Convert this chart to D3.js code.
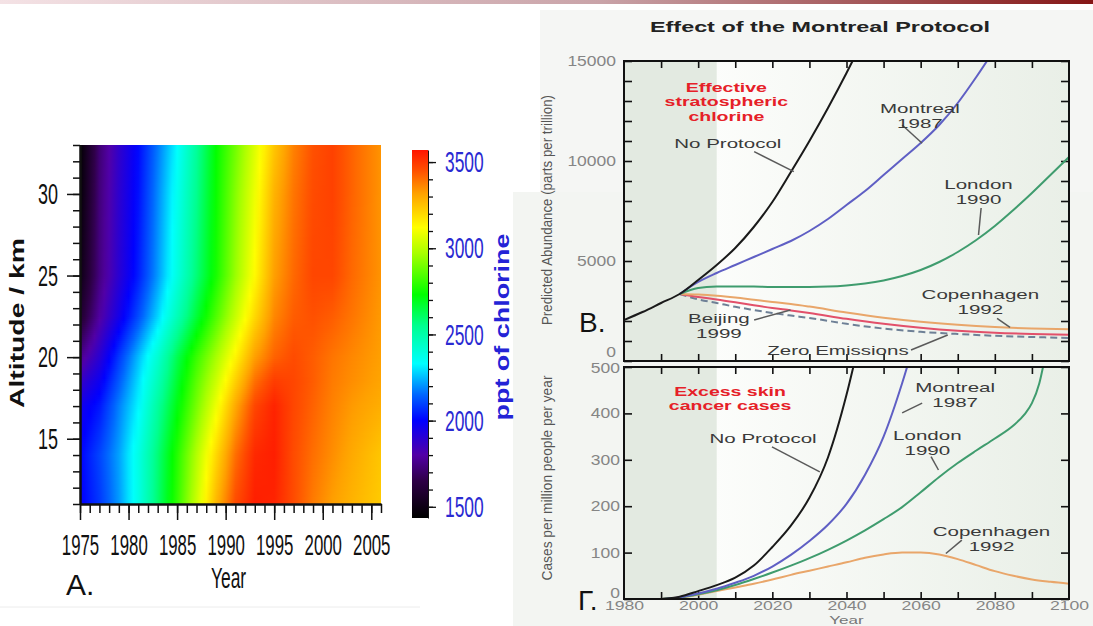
<!DOCTYPE html>
<html lang="en">
<head>
<meta charset="utf-8">
<title>Chlorine and the Montreal Protocol</title>
<script src="https://cdn.jsdelivr.net/npm/d3@7"></script>
<style>
  body { margin: 0; background: #fff; }
  svg { display: block; font-family: "Liberation Sans", Arial, sans-serif; }
</style>
</head>
<body>
<div id="chart"></div>
<script>
// ---------- panel A data: chlorine (ppt) by altitude and year ----------
var heatYears = [1975, 1977, 1979, 1981, 1983, 1985, 1987, 1989, 1991, 1993, 1995, 1997, 1999, 2001, 2003, 2006];
var heatAlts = [11, 14, 17, 18.5, 20, 22.5, 25, 30, 33];
var heatVals = [
  [1990, 2080, 2210, 2380, 2590, 2800, 3030, 3270, 3460, 3550, 3540, 3460, 3380, 3320, 3280, 3230],
  [2000, 2100, 2220, 2380, 2580, 2780, 2990, 3200, 3400, 3530, 3550, 3460, 3400, 3350, 3300, 3240],
  [1950, 2030, 2180, 2320, 2520, 2710, 2900, 3090, 3300, 3470, 3540, 3470, 3420, 3370, 3330, 3290],
  [1870, 1970, 2130, 2290, 2470, 2670, 2860, 3030, 3220, 3400, 3490, 3470, 3430, 3380, 3350, 3310],
  [1760, 1900, 2080, 2250, 2420, 2630, 2810, 2970, 3140, 3320, 3420, 3460, 3430, 3390, 3360, 3320],
  [1580, 1790, 1950, 2110, 2280, 2470, 2660, 2840, 3020, 3200, 3360, 3430, 3450, 3430, 3390, 3330],
  [1500, 1740, 1900, 2040, 2210, 2390, 2580, 2760, 2950, 3130, 3320, 3410, 3470, 3470, 3410, 3340],
  [1460, 1730, 1890, 2020, 2190, 2360, 2550, 2740, 2920, 3090, 3280, 3390, 3460, 3480, 3420, 3340],
  [1450, 1720, 1880, 2010, 2170, 2330, 2530, 2730, 2890, 3060, 3240, 3370, 3450, 3480, 3420, 3340]
];
var cbarVals = [1440, 1650, 1800, 2000, 2150, 2330, 2550, 2730, 2970, 3120, 3320, 3450, 3570];
var cbarCols = ["#000000", "#2e0046", "#5200a6", "#0000ff", "#0066ff", "#00ffff", "#00ff90", "#00ff00",
                "#a8ff00", "#ffff00", "#ffa000", "#ff5000", "#ff1400"];
var yearTicksA = [1975, 1980, 1985, 1990, 1995, 2000, 2005];
var altTicks = [15, 20, 25, 30];
var cbarTicks = [1500, 2000, 2500, 3000, 3500];

// ---------- panel B data: effective stratospheric chlorine (ppt) ----------
var bYearsNo = [1980, 1985, 1990, 1995, 2000, 2005, 2010, 2015, 2020, 2025, 2030, 2035, 2040, 2043];
var bNoProtocol = [2050, 2450, 2900, 3350, 4050, 4800, 5650, 6700, 7950, 9450, 11000, 12650, 14400, 15500];
var bYearsMontreal = [1995, 2000, 2005, 2010, 2015, 2020, 2025, 2030, 2035, 2040, 2045, 2050, 2055, 2060, 2065, 2070, 2075, 2080];
var bMontreal = [3350, 3950, 4400, 4800, 5200, 5600, 6000, 6500, 7100, 7800, 8500, 9300, 10100, 10900, 11800, 12900, 14200, 15600];
var bYearsLondon = [1995, 2000, 2005, 2010, 2015, 2020, 2025, 2030, 2035, 2040, 2045, 2050, 2055, 2060, 2065, 2070, 2075, 2080, 2085, 2090, 2095, 2100];
var bLondon = [3350, 3650, 3720, 3730, 3720, 3700, 3700, 3700, 3720, 3780, 3880, 4030, 4250, 4550, 4950, 5450, 6050, 6750, 7550, 8400, 9300, 10200];
var bYearsLow = [1995, 2000, 2005, 2010, 2015, 2020, 2025, 2030, 2040, 2050, 2060, 2070, 2080, 2090, 2100];
var bCopenhagen = [3350, 3320, 3260, 3170, 3060, 2950, 2850, 2720, 2420, 2160, 1960, 1810, 1700, 1630, 1590];
var bBeijing = [3350, 3200, 3080, 2940, 2790, 2650, 2530, 2400, 2110, 1860, 1660, 1510, 1410, 1350, 1310];
var bZero = [3350, 3080, 2900, 2710, 2550, 2400, 2270, 2150, 1860, 1620, 1460, 1350, 1260, 1200, 1150];

// ---------- panel Г data: excess skin cancer cases per million per year ----------
var gYearsNo = [1990, 1995, 2000, 2005, 2010, 2015, 2020, 2025, 2030, 2035, 2040, 2043];
var gNoProtocol = [0, 5, 17, 30, 46, 72, 112, 158, 218, 305, 440, 540];
var gYearsMontreal = [1990, 1995, 2000, 2005, 2010, 2015, 2020, 2025, 2030, 2035, 2040, 2045, 2050, 2055, 2058];
var gMontreal = [0, 4, 12, 22, 35, 50, 70, 95, 125, 160, 205, 268, 350, 465, 545];
var gYearsLondon = [1990, 1995, 2000, 2005, 2010, 2015, 2020, 2025, 2030, 2035, 2040, 2045, 2050, 2055, 2060, 2065, 2070, 2075, 2080, 2085, 2088, 2090, 2092, 2093.5];
var gLondon = [0, 3, 10, 19, 30, 43, 57, 72, 88, 106, 126, 148, 172, 198, 230, 263, 293, 320, 346, 374, 398, 422, 465, 520];
var gYearsCopen = [1990, 1995, 2000, 2005, 2010, 2015, 2020, 2025, 2030, 2035, 2040, 2045, 2050, 2055, 2060, 2065, 2070, 2075, 2080, 2085, 2090, 2095, 2100];
var gCopenhagen = [0, 3, 9, 17, 25, 33, 42, 52, 61, 70, 79, 89, 96, 100, 100, 96, 86, 73, 60, 50, 42, 37, 33];

// annotations, in data units (value = centre of the label block)
var notesB = [
  {lines: ["Effective", "stratospheric", "chlorine"], year: 2007.6, val: 12970, red: true},
  {lines: ["Montreal", "1987"], year: 2059.8, val: 12260},
  {lines: ["No Protocol"], year: 2008, val: 10885},
  {lines: ["London", "1990"], year: 2075.6, val: 8440},
  {lines: ["Copenhagen", "1992"], year: 2076.1, val: 2940},
  {lines: ["Beijing", "1999"], year: 2005.6, val: 1760},
  {lines: ["Zero Emissions"], year: 2037.7, val: 550}
];
var leadersB = [
  [[2055.0, 11800], [2060.4, 10885]],
  [[2015.1, 10465], [2025.8, 9465]],
  [[2076.3, 7650], [2075.6, 6300]],
  [[2080.6, 2135], [2084.1, 1685]],
  [[2015.1, 2050], [2024.9, 2550]],
  [[2057.4, 550], [2067.3, 1300]]
];
var notesG = [
  {lines: ["Excess skin", "cancer cases"], year: 2008.6, val: 432, red: true},
  {lines: ["Montreal", "1987"], year: 2069.3, val: 440},
  {lines: ["No Protocol"], year: 2017.5, val: 346},
  {lines: ["London", "1990"], year: 2061.8, val: 336},
  {lines: ["Copenhagen", "1992"], year: 2079.1, val: 129}
];
var leadersG = [
  [[2060.4, 422], [2055.0, 401]],
  [[2019.9, 328], [2032.8, 274]],
  [[2062.8, 307], [2064.8, 278]],
  [[2071.1, 127], [2066.8, 98]]
];

var W = 1093, H = 626;
var svg = d3.select("#chart").append("svg").attr("width", W).attr("height", H);
var defs = svg.append("defs");
var fmt = d3.format("d");

// squeeze or widen a text horizontally around its own x position
function stretch(sel, k) {
  sel.each(function () {
    var x = +this.getAttribute("x") || 0;
    d3.select(this).attr("transform", "translate(" + x + ",0) scale(" + k + ",1) translate(" + (-x) + ",0)");
  });
  return sel;
}
function txt(g, s, x, y, size, fill, anchor) {
  return g.append("text").attr("x", x).attr("y", y).attr("dy", "0.35em")
    .attr("font-size", size).attr("fill", fill).attr("text-anchor", anchor || "middle").text(s);
}

// backgrounds
var rib = defs.append("linearGradient").attr("id", "ribbon");
rib.append("stop").attr("offset", "0%").attr("stop-color", "#f4e2e5");
rib.append("stop").attr("offset", "55%").attr("stop-color", "#c9a3a8");
rib.append("stop").attr("offset", "100%").attr("stop-color", "#851616");
svg.append("rect").attr("width", W).attr("height", 4).attr("fill", "url(#ribbon)");
svg.append("rect").attr("x", 540).attr("y", 10).attr("width", W - 540).attr("height", H - 10).attr("fill", "#f5f6f4");
svg.append("rect").attr("x", 513).attr("y", 192).attr("width", W - 513).attr("height", H - 192).attr("fill", "#f3f5f2");
svg.append("line").attr("x1", 0).attr("x2", 420).attr("y1", 607).attr("y2", 607).attr("stroke", "#ececec");

// ================= panel A =================
var xA = d3.scaleLinear().domain([1975, 2006]).range([80, 381]);
var yA = d3.scaleLinear().domain([11, 33]).range([504, 145]);
var yC = d3.scaleLinear().domain([1435, 3570]).range([518, 150]);
var heatColor = d3.scaleLinear().domain(cbarVals).range(cbarCols).clamp(true);

function cell(arr, v) {
  var i = Math.max(0, Math.min(arr.length - 2, d3.bisectRight(arr, v) - 1));
  var t = Math.max(0, Math.min(1, (v - arr[i]) / (arr[i + 1] - arr[i])));
  return [i, t];
}
function valueAt(yr, alt) {
  var a = cell(heatAlts, alt), b = cell(heatYears, yr);
  var r0 = heatVals[a[0]], r1 = heatVals[a[0] + 1];
  var v0 = r0[b[0]] + (r0[b[0] + 1] - r0[b[0]]) * b[1];
  var v1 = r1[b[0]] + (r1[b[0] + 1] - r1[b[0]]) * b[1];
  return v0 + (v1 - v0) * a[1];
}

var gA = svg.append("g");
var hx0 = xA(1975), hx1 = xA(2006);
var stripYears = d3.range(1975, 2006.01, 0.5);
d3.range(yA(33), yA(11), 2).forEach(function (py, k) {
  var alt = yA.invert(py + 1);
  var gr = defs.append("linearGradient").attr("id", "hs" + k).attr("gradientUnits", "userSpaceOnUse")
    .attr("x1", hx0).attr("x2", hx1).attr("y1", 0).attr("y2", 0);
  stripYears.forEach(function (yr) {
    gr.append("stop").attr("offset", (xA(yr) - hx0) / (hx1 - hx0)).attr("stop-color", heatColor(valueAt(yr, alt)));
  });
  gA.append("rect").attr("x", hx0).attr("y", py).attr("width", hx1 - hx0)
    .attr("height", Math.min(2.6, yA(11) - py)).attr("fill", "url(#hs" + k + ")");
});

function styleAxis(a, w) {
  a.attr("font-family", null).attr("font-size", null);
  a.selectAll("line").attr("stroke", "#111").attr("stroke-width", w || 1.5);
  a.select(".domain").attr("stroke", "#111").attr("stroke-width", 2);
  return a;
}
// left axis
styleAxis(gA.append("g").attr("transform", "translate(80,0)")
  .call(d3.axisLeft(yA).tickValues(d3.range(11, 34)).tickSize(7).tickSizeOuter(0).tickFormat("")));
var la = styleAxis(gA.append("g").attr("transform", "translate(80,0)")
  .call(d3.axisLeft(yA).tickValues(altTicks).tickSize(13).tickSizeOuter(0).tickPadding(9).tickFormat(fmt)));
la.selectAll("text").attr("font-size", 30).attr("fill", "#111");
stretch(la.selectAll("text"), 0.6);
// bottom axis
styleAxis(gA.append("g").attr("transform", "translate(0,504)")
  .call(d3.axisBottom(xA).tickValues(d3.range(1975, 2007)).tickSize(9).tickSizeOuter(0).tickFormat("")));
var ba = styleAxis(gA.append("g").attr("transform", "translate(0,504)")
  .call(d3.axisBottom(xA).tickValues(yearTicksA).tickSize(16).tickSizeOuter(0).tickFormat(fmt)));
ba.selectAll("text").attr("font-size", 30).attr("fill", "#111").attr("y", 41).attr("dy", "0.35em");
stretch(ba.selectAll("text"), 0.56);

stretch(txt(gA, "Year", xA(1990.3), 578, 30, "#111"), 0.58);
txt(gA, "A.", 66, 584, 30, "#111", "start");
gA.append("text").attr("transform", "translate(17,323) rotate(-90)").attr("dy", "0.35em")
  .attr("text-anchor", "middle").attr("font-size", 21).attr("font-weight", "bold").attr("fill", "#111")
  .attr("textLength", 170).attr("lengthAdjust", "spacingAndGlyphs").text("Altitude / km");

// colour bar
var cg = defs.append("linearGradient").attr("id", "cbar").attr("gradientUnits", "userSpaceOnUse")
  .attr("x1", 0).attr("x2", 0).attr("y1", yC(1435)).attr("y2", yC(3570));
cbarVals.forEach(function (v, i) {
  cg.append("stop").attr("offset", (v - 1435) / (3570 - 1435)).attr("stop-color", cbarCols[i]);
});
gA.append("rect").attr("x", 412).attr("y", yC(3570)).attr("width", 16).attr("height", yC(1435) - yC(3570))
  .attr("fill", "url(#cbar)");
var cm = styleAxis(gA.append("g").attr("transform", "translate(428,0)")
  .call(d3.axisRight(yC).tickValues(d3.range(1500, 3600, 100)).tickSize(5).tickSizeOuter(0).tickFormat("")), 1.3);
cm.select(".domain").attr("stroke-width", 1);
var cM = styleAxis(gA.append("g").attr("transform", "translate(428,0)")
  .call(d3.axisRight(yC).tickValues(cbarTicks).tickSize(8).tickSizeOuter(0).tickPadding(9).tickFormat(fmt)), 1.3);
cM.select(".domain").remove();
cM.selectAll("text").attr("font-size", 30).attr("fill", "#2a2ad2");
stretch(cM.selectAll("text"), 0.58);
gA.append("text").attr("transform", "translate(502,327) rotate(-90)").attr("dy", "0.35em")
  .attr("text-anchor", "middle").attr("font-size", 21).attr("font-weight", "bold").attr("fill", "#2323d6")
  .attr("textLength", 187).attr("lengthAdjust", "spacingAndGlyphs").text("ppt of chlorine");

// ================= panels B and Г =================
var xR = d3.scaleLinear().domain([1980, 2100]).range([624, 1069]);
var yB = d3.scaleLinear().domain([0, 15000]).range([361, 61]);
var yG = d3.scaleLinear().domain([0, 500]).range([599, 367]);

var fade = defs.append("linearGradient").attr("id", "fade");
fade.append("stop").attr("offset", "0%").attr("stop-color", "#ffffff");
fade.append("stop").attr("offset", "20%").attr("stop-color", "#fcfdfb");
fade.append("stop").attr("offset", "100%").attr("stop-color", "#e9efe7");

var gR = svg.append("g");
gR.append("text").attr("x", 820).attr("y", 27).attr("dy", "0.35em").attr("text-anchor", "middle")
  .attr("font-size", 15).attr("font-weight", "bold").attr("fill", "#222")
  .attr("textLength", 340).attr("lengthAdjust", "spacingAndGlyphs").text("Effect of the Montreal Protocol");

function panel(id, y, yTicksMinor, yTicksLabel, labelGap, withYearLabels) {
  var g = gR.append("g");
  var top = y.range()[1], bot = y.range()[0];
  defs.append("clipPath").attr("id", id).append("rect")
    .attr("x", xR(1980)).attr("y", top).attr("width", xR(2100) - xR(1980)).attr("height", bot - top);
  g.append("rect").attr("x", xR(1980)).attr("y", top).attr("width", xR(2100) - xR(1980)).attr("height", bot - top)
    .attr("fill", "url(#fade)");
  g.append("rect").attr("x", xR(1980)).attr("y", top).attr("width", xR(2005) - xR(1980)).attr("height", bot - top)
    .attr("fill", "#e3eae1");
  var axes = g.append("g");
  styleAxis(axes.append("g").attr("transform", "translate(" + xR(1980) + ",0)")
    .call(d3.axisLeft(y).tickValues(yTicksMinor).tickSize(-8).tickSizeOuter(0).tickFormat("")), 1.6).select(".domain").remove();
  styleAxis(axes.append("g").attr("transform", "translate(" + xR(2100) + ",0)")
    .call(d3.axisRight(y).tickValues(yTicksMinor).tickSize(-8).tickSizeOuter(0).tickFormat("")), 1.6).select(".domain").remove();
  styleAxis(axes.append("g").attr("transform", "translate(0," + top + ")")
    .call(d3.axisTop(xR).tickValues(d3.range(1990, 2100, 10)).tickSize(-7).tickSizeOuter(0).tickFormat("")), 1.6).select(".domain").remove();
  styleAxis(axes.append("g").attr("transform", "translate(0," + bot + ")")
    .call(d3.axisBottom(xR).tickValues(d3.range(1990, 2100, 10)).tickSize(-7).tickSizeOuter(0).tickFormat("")), 1.6).select(".domain").remove();
  var yl = axes.append("g").attr("transform", "translate(" + xR(1980) + ",0)")
    .call(d3.axisLeft(y).tickValues(yTicksLabel).tickSize(0).tickPadding(labelGap).tickFormat(fmt));
  yl.attr("font-family", null).attr("font-size", null);
  yl.select(".domain").remove();
  yl.selectAll("text").attr("font-size", 14).attr("fill", "#858585");
  stretch(yl.selectAll("text"), 1.25);
  if (withYearLabels) {
    var xl = axes.append("g").attr("transform", "translate(0," + bot + ")")
      .call(d3.axisBottom(xR).tickValues(d3.range(1980, 2101, 20)).tickSize(0).tickFormat(fmt));
    xl.attr("font-family", null).attr("font-size", null);
    xl.select(".domain").remove();
    xl.selectAll("text").attr("font-size", 12).attr("fill", "#858585").attr("y", 7).attr("dy", "0.35em");
    stretch(xl.selectAll("text"), 1.47);
  }
  g.append("rect").attr("x", xR(1980)).attr("y", top).attr("width", xR(2100) - xR(1980)).attr("height", bot - top)
    .attr("fill", "none").attr("stroke", "#111").attr("stroke-width", 2);
  return {g: g, ylab: yl};
}

function drawSeries(g, clipId, y, series) {
  var line = d3.line().x(function (d) { return xR(d[0]); }).y(function (d) { return y(d[1]); })
    .curve(d3.curveMonotoneX);
  var lg = g.insert("g", "rect:last-of-type").attr("clip-path", "url(#" + clipId + ")");
  series.forEach(function (s) {
    lg.append("path").datum(d3.zip(s.years, s.vals)).attr("d", line).attr("fill", "none")
      .attr("stroke", s.color).attr("stroke-width", 2).attr("stroke-dasharray", s.dash || null);
  });
}

var noteGap = 14.6;
function drawNotes(g, y, notes, leaders) {
  leaders.forEach(function (l) {
    g.append("line").attr("x1", xR(l[0][0])).attr("y1", y(l[0][1])).attr("x2", xR(l[1][0])).attr("y2", y(l[1][1]))
      .attr("stroke", "#5a5a5a").attr("stroke-width", 1.5);
  });
  notes.forEach(function (n) {
    var y0 = y(n.val) - (n.lines.length - 1) * noteGap / 2;
    n.lines.forEach(function (s, i) {
      var t = txt(g, s, xR(n.year), y0 + i * noteGap, 13, n.red ? "#e62028" : "#3a3a3a");
      if (n.red) t.attr("font-weight", "bold");
      stretch(t, n.red ? 1.5 : 1.58);
    });
  });
}

// panel B
var pB = panel("clipB", yB, d3.range(0, 15001, 1000), [0, 5000, 10000, 15000], 8, false);
// the zero label sits a little above its tick, as in the source figure
pB.ylab.selectAll(".tick text").filter(function (d) { return d === 0; }).attr("dy", "-0.35em");
drawSeries(pB.g, "clipB", yB, [
  {years: bYearsLow, vals: bZero, color: "#6e8096", dash: "7,4"},
  {years: bYearsLow, vals: bBeijing, color: "#e2506a"},
  {years: bYearsLow, vals: bCopenhagen, color: "#e9a66a"},
  {years: bYearsLondon, vals: bLondon, color: "#3f9c6e"},
  {years: bYearsMontreal, vals: bMontreal, color: "#5f5fc4"},
  {years: bYearsNo, vals: bNoProtocol, color: "#1a1a1a"}
]);
drawNotes(pB.g, yB, notesB, leadersB);

// panel Г
var pG = panel("clipG", yG, d3.range(0, 501, 100), d3.range(0, 501, 100), 4, true);
pG.ylab.selectAll(".tick text").filter(function (d) { return d === 0; }).attr("dy", "-0.1em");
pG.ylab.selectAll(".tick text").filter(function (d) { return d === 500; }).attr("dy", "0.4em");
drawSeries(pG.g, "clipG", yG, [
  {years: gYearsCopen, vals: gCopenhagen, color: "#e9a66a"},
  {years: gYearsLondon, vals: gLondon, color: "#3f9c6e"},
  {years: gYearsMontreal, vals: gMontreal, color: "#5f5fc4"},
  {years: gYearsNo, vals: gNoProtocol, color: "#1a1a1a"}
]);
drawNotes(pG.g, yG, notesG, leadersG);

// axis titles and panel letters
gR.append("text").attr("transform", "translate(547,210) rotate(-90)").attr("dy", "0.35em")
  .attr("text-anchor", "middle").attr("font-size", 15).attr("fill", "#555")
  .attr("textLength", 230).attr("lengthAdjust", "spacingAndGlyphs").text("Predicted Abundance (parts per trillion)");
gR.append("text").attr("transform", "translate(547,478) rotate(-90)").attr("dy", "0.35em")
  .attr("text-anchor", "middle").attr("font-size", 15).attr("fill", "#555")
  .attr("textLength", 205).attr("lengthAdjust", "spacingAndGlyphs").text("Cases per million people per year");
stretch(txt(gR, "Year", xR(2040), 619.7, 11, "#777"), 1.55);
txt(gR, "B.", 579, 322, 28, "#111", "start");
txt(gR, "Г.", 578, 600, 28, "#111", "start");
</script>
</body>
</html>
